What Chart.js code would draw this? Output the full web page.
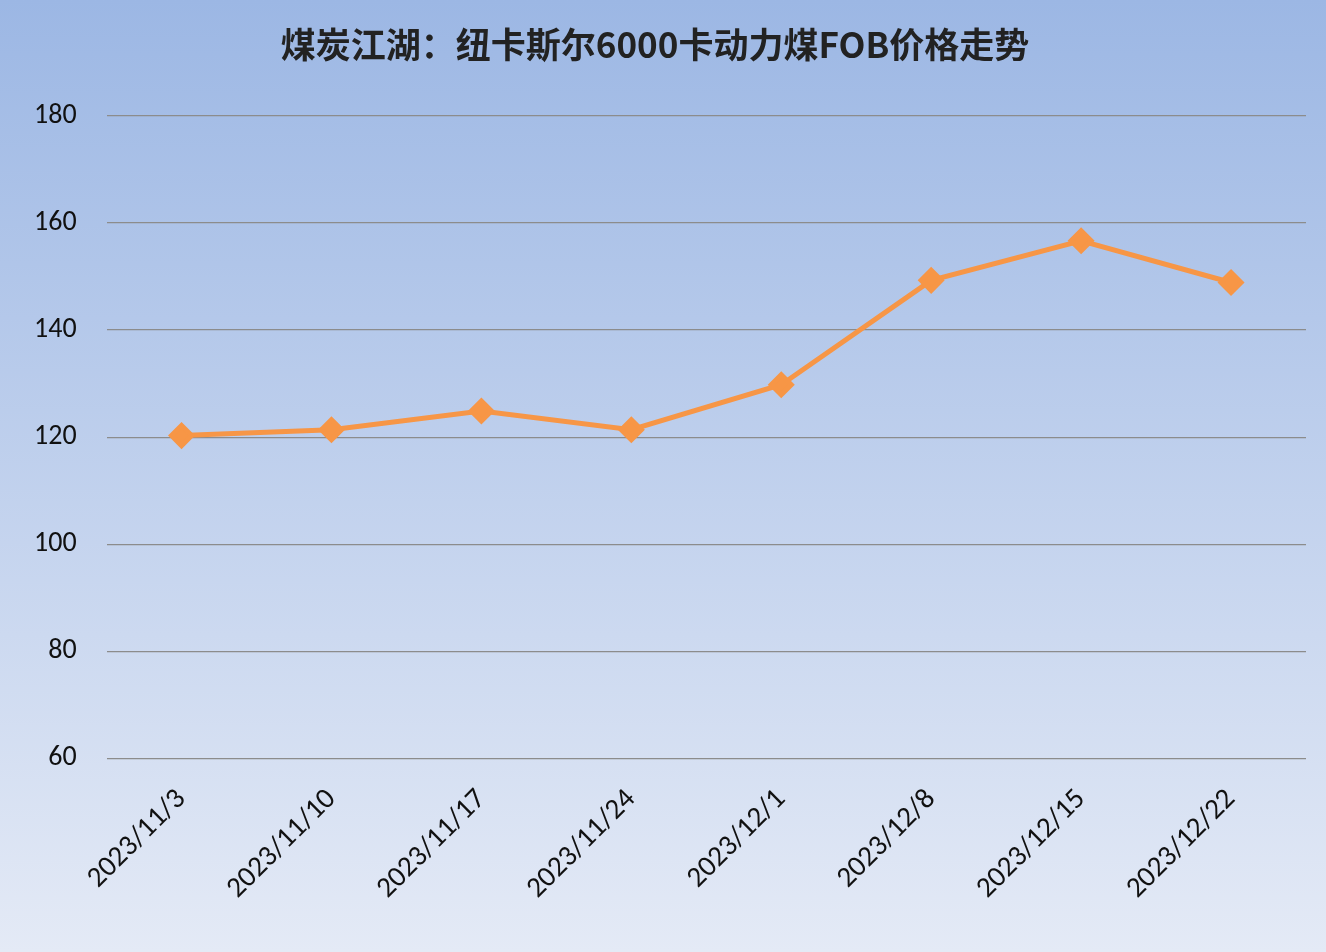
<!DOCTYPE html>
<html>
<head>
<meta charset="utf-8">
<script src="https://cdn.jsdelivr.net/npm/chart.js@4/dist/chart.umd.min.js"></script>
<style>
  html, body { margin: 0; padding: 0; background: #fff; }
  #wrap { width: 1326px; height: 952px; }
</style>
</head>
<body>
<div id="wrap"><canvas id="c"></canvas></div>
<script>
const titleText = '煤炭江湖：纽卡斯尔6000卡动力煤FOB价格走势';
const dates = ['2023/11/3', '2023/11/10', '2023/11/17', '2023/11/24', '2023/12/1', '2023/12/8', '2023/12/15', '2023/12/22'];
const prices = [120.3, 121.4, 124.9, 121.4, 129.8, 149.3, 156.7, 148.9];

// fond dégradé sur tout le canvas
const bgPlugin = {
  id: 'bg',
  beforeDraw(chart) {
    const ctx = chart.ctx;
    const g = ctx.createLinearGradient(0, 0, 0, chart.height);
    g.addColorStop(0, '#9cb7e4');
    g.addColorStop(1, '#e4eaf6');
    ctx.save();
    ctx.fillStyle = g;
    ctx.fillRect(0, 0, chart.width, chart.height);
    ctx.restore();
  }
};

new Chart(document.getElementById('c').getContext('2d'), {
  type: 'line',
  data: {
    labels: dates,
    datasets: [{
      data: prices,
      borderColor: '#f79646',
      backgroundColor: '#f79646',
      borderWidth: 5,
      pointStyle: 'rectRot',
      pointRadius: 10,
      pointHoverRadius: 10,
      tension: 0,
      fill: false
    }]
  },
  options: {
    responsive: true,
    maintainAspectRatio: false,
    animation: false,
    layout: { padding: { left: 4, right: 20, top: 10, bottom: 30 } },
    plugins: {
      legend: { display: false },
      tooltip: { enabled: false },
      title: {
        display: true,
        text: titleText,
        color: '#222',
        font: { family: '"Noto Sans CJK SC", sans-serif', size: 35, weight: 'bold' },
        padding: { top: 14, bottom: 50 }
      }
    },
    scales: {
      x: {
        offset: true,
        grid: { display: false },
        border: { display: false },
        ticks: {
          color: '#111',
          font: { family: 'Calibri, "Liberation Sans", sans-serif', size: 29 },
          maxRotation: 45,
          minRotation: 45,
          padding: 16
        }
      },
      y: {
        min: 60,
        max: 180,
        grid: { color: '#8c8c8c', lineWidth: 1.3, drawTicks: false },
        border: { display: false },
        ticks: {
          stepSize: 20,
          color: '#111',
          padding: 30,
          font: { family: 'Calibri, "Liberation Sans", sans-serif', size: 28 }
        }
      }
    }
  },
  plugins: [bgPlugin]
});
</script>
</body>
</html>
